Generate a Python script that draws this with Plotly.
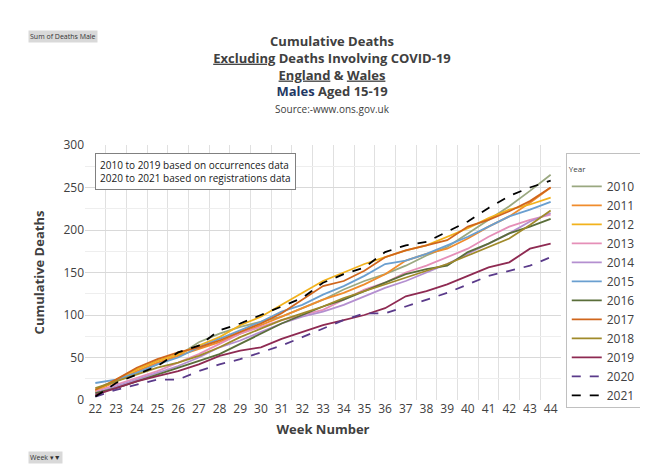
import plotly.graph_objects as go

weeks = list(range(22, 45))
s2010 = [12,22,32,42,52,68,78,86,92,98,108,118,130,140,148,158,170,180,196,212,228,246,265]
s2011 = [10,22,34,44,52,60,68,78,88,98,108,118,126,136,148,164,172,178,190,204,216,232,250]
s2012 = [10,24,36,46,54,64,74,88,98,112,126,140,150,160,168,176,182,192,202,214,224,230,238]
s2013 = [10,18,26,34,44,54,66,78,86,94,100,106,118,130,138,150,158,168,178,192,204,212,218]
s2014 = [8,16,24,32,40,50,62,70,80,90,98,104,112,122,132,140,150,160,172,184,196,210,220]
s2015 = [20,24,32,42,50,62,72,82,92,104,112,124,134,146,160,164,172,182,192,204,216,224,233]
s2016 = [8,14,22,30,38,46,54,66,78,90,100,110,118,128,138,148,154,158,174,184,196,204,213]
s2017 = [12,24,38,48,56,62,70,80,90,102,118,134,140,152,168,176,182,188,204,212,222,234,250]
s2018 = [14,22,30,38,44,52,62,74,84,94,102,110,120,128,136,144,152,160,170,180,190,206,223]
s2019 = [6,14,22,28,34,42,52,58,62,72,80,88,94,100,108,122,128,136,146,156,162,178,184]
s2020 = [4,12,18,24,24,34,42,48,56,64,74,84,94,102,102,110,118,126,136,146,152,158,168]
s2021 = [4,20,30,40,56,64,82,90,100,110,120,138,148,156,174,182,186,198,210,226,240,250,258]

series = [
    ("2010", s2010, "#9aa880", "solid"),
    ("2011", s2011, "#f08c2c", "solid"),
    ("2012", s2012, "#f2b21c", "solid"),
    ("2013", s2013, "#e58fb8", "solid"),
    ("2014", s2014, "#b48fd0", "solid"),
    ("2015", s2015, "#6a9fd0", "solid"),
    ("2016", s2016, "#5a6e3a", "solid"),
    ("2017", s2017, "#d0661c", "solid"),
    ("2018", s2018, "#a08a2a", "solid"),
    ("2019", s2019, "#8e2a52", "solid"),
    ("2020", s2020, "#5a3a8a", "dash"),
    ("2021", s2021, "#000000", "dash"),
]

fig = go.Figure()
for name, ys, col, dash in series:
    fig.add_trace(go.Scatter(x=weeks, y=ys, name=name, mode="lines",
                             line=dict(color=col, width=1.8, dash=dash)))

fnt = "Open Sans"
fig.update_layout(
    width=648, height=472, paper_bgcolor="white", plot_bgcolor="white",
    margin=dict(l=77, r=95, t=137, b=80, autoexpand=False),
    font=dict(family=fnt, color="#404040", size=12),
    title=dict(text="<b>Cumulative Deaths</b><br><b><u>Excluding</u> Deaths Involving COVID-19</b><br><b><u>England</u> & <u>Wales</u></b><br><b><span style='color:#1f3864'>Males</span> Aged 15-19</b><br><span style='font-size:10px'>Source:-www.ons.gov.uk</span>",
               x=0.5, xanchor="center", y=0.92, yanchor="top", font=dict(size=13, color="#404040")),
    xaxis=dict(tickmode="array", tickvals=weeks, ticktext=[str(w) for w in weeks],
               range=[21.5, 44.5], showgrid=False, tickfont=dict(size=12),
               title=dict(text="<b>Week Number</b>", font=dict(size=13), standoff=8),
               minor=dict(tickmode="array", tickvals=[w + 0.5 for w in range(21, 45)], showgrid=True, gridcolor="#e0e0e0"),
               showline=False, zeroline=False),
    yaxis=dict(range=[0, 300], dtick=50, gridcolor="#d9d9d9", tickfont=dict(size=12),
               title=dict(text="<b>Cumulative Deaths</b>", font=dict(size=13)),
               minor=dict(dtick=25, showgrid=True, gridcolor="#eeeeee"), zeroline=False),
    legend=dict(x=1.01, y=0.97, xanchor="left", yanchor="top", font=dict(size=12),
                tracegroupgap=0, itemwidth=30, bgcolor="rgba(0,0,0,0)",
                bordercolor="#c0c0c0", borderwidth=1,
                title=dict(text="<span style='font-size:8px'>Year</span>")),
    showlegend=True,
)
fig.add_annotation(xref="paper", yref="paper", x=0.02, y=0.97, xanchor="left", yanchor="top",
                   text="2010 to 2019 based on occurrences data<br>2020 to 2021 based on registrations data",
                   showarrow=False, align="left", bordercolor="#808080", borderwidth=1, bgcolor="white",
                   font=dict(size=10, color="#202020"), borderpad=4)
fig.add_annotation(xref="paper", yref="paper", x=-0.12, y=1.45, xanchor="left", yanchor="top",
                   text="Sum of Deaths Male", showarrow=False, bgcolor="#d9d9d9", font=dict(size=7, color="#333"))
fig.add_annotation(xref="paper", yref="paper", x=-0.12, y=-0.2, xanchor="left", yanchor="top",
                   text="Week ▾▼", showarrow=False, bgcolor="#d9d9d9", font=dict(size=7, color="#333"))
fig.write_html("out.html")
